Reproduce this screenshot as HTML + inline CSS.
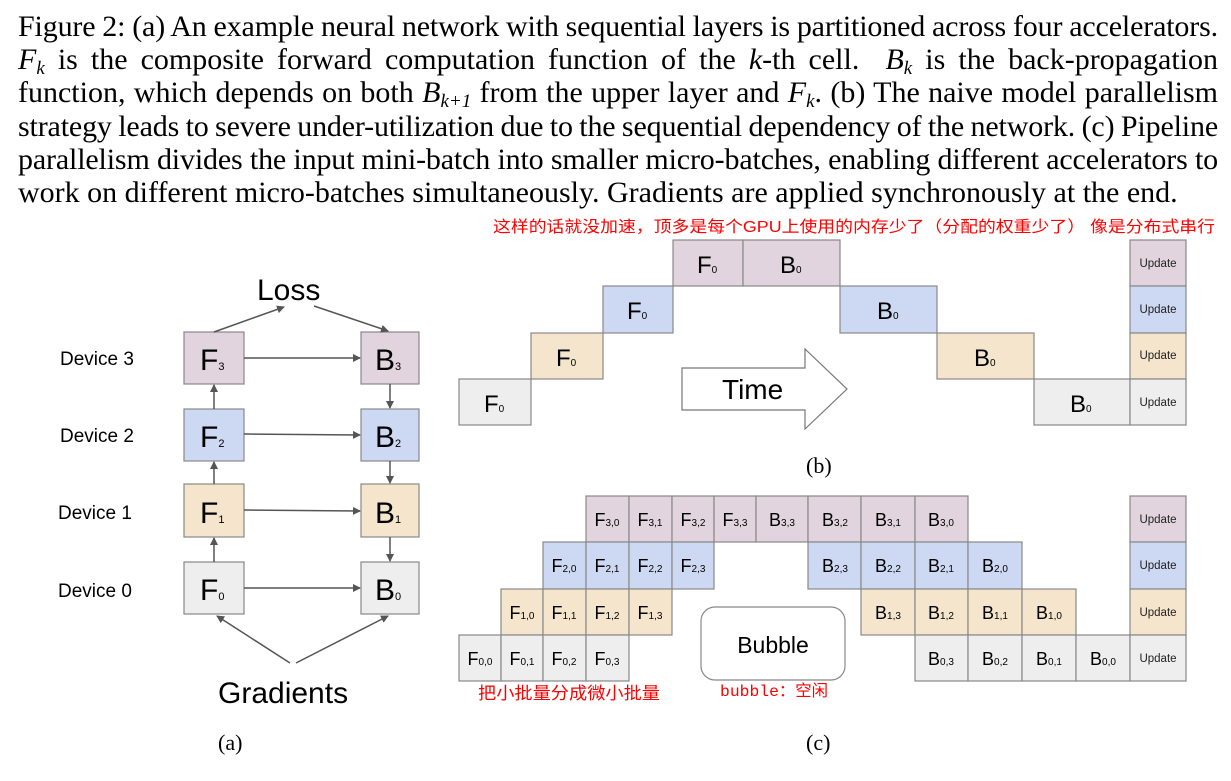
<!DOCTYPE html>
<html><head><meta charset="utf-8"><style>
body{margin:0;width:1231px;height:781px;background:#fff;overflow:hidden;position:relative}
.cap{position:absolute;left:18px;top:10px;width:1200px;font-family:"Liberation Serif",serif;font-size:30px;line-height:33.2px;color:#000}
.cap div{height:33.2px;text-align:justify;text-align-last:justify;white-space:nowrap}
.cap div.t{word-spacing:-2.5px;letter-spacing:-0.15px}
.cap div.last{text-align-last:left}
i{font-style:italic}
sub{font-size:19px;line-height:0;vertical-align:-5px}
svg{position:absolute;left:0;top:0}
</style></head><body>
<div class="cap">
<div class="t">Figure 2: (a) An example neural network with sequential layers is partitioned across four accelerators.</div>
<div><i>F<sub>k</sub></i> is the composite forward computation function of the <i>k</i>-th cell. &nbsp;<i>B<sub>k</sub></i> is the back-propagation</div>
<div>function, which depends on both <i>B<sub>k+1</sub></i> from the upper layer and <i>F<sub>k</sub></i>. (b) The naive model parallelism</div>
<div class="t">strategy leads to severe under-utilization due to the sequential dependency of the network. (c) Pipeline</div>
<div class="t">parallelism divides the input mini-batch into smaller micro-batches, enabling different accelerators to</div>
<div class="last">work on different micro-batches simultaneously. Gradients are applied synchronously at the end.</div>
</div>
<svg width="1231" height="781" xmlns="http://www.w3.org/2000/svg" font-family="Liberation Sans, sans-serif">
<defs><marker id="a" markerWidth="8" markerHeight="8" refX="7" refY="4" orient="auto" markerUnits="userSpaceOnUse"><path d="M0,0 L8,4 L0,8 z" fill="#555"/></marker></defs>
<text x="493" y="232" font-size="16" fill="#f00" textLength="722" lengthAdjust="spacingAndGlyphs" font-family="Liberation Sans, Noto Sans CJK SC, sans-serif">这样的话就没加速，顶多是每个GPU上使用的内存少了（分配的权重少了） 像是分布式串行</text>
<g stroke="#888" stroke-width="1.2">
<rect x="184" y="332" width="60" height="52" fill="#e2d4de"/>
<rect x="184" y="409" width="60" height="52" fill="#cdd9f3"/>
<rect x="184" y="484" width="60" height="53" fill="#f5e5cd"/>
<rect x="184" y="562" width="60" height="52" fill="#eeeeee"/>
<rect x="361" y="332" width="58" height="52" fill="#e2d4de"/>
<rect x="361" y="409" width="58" height="52" fill="#cdd9f3"/>
<rect x="361" y="484" width="58" height="53" fill="#f5e5cd"/>
<rect x="361" y="562" width="58" height="52" fill="#eeeeee"/>
</g>
<g stroke="#555" stroke-width="1.5" marker-end="url(#a)">
<line x1="244" y1="358" x2="360" y2="358"/><line x1="244" y1="434" x2="360" y2="435"/>
<line x1="244" y1="510" x2="360" y2="511"/><line x1="244" y1="588" x2="360" y2="588"/>
<line x1="214" y1="562" x2="214" y2="538"/><line x1="214" y1="484" x2="214" y2="462"/><line x1="214" y1="409" x2="214" y2="385"/>
<line x1="390" y1="384" x2="390" y2="408"/><line x1="390" y1="461" x2="390" y2="483"/><line x1="390" y1="537" x2="390" y2="561"/>
<line x1="214" y1="332" x2="284" y2="307"/><line x1="314" y1="306" x2="388" y2="331"/>
<line x1="290" y1="663" x2="217" y2="616"/><line x1="296" y1="663" x2="388" y2="616"/>
</g>
<g font-size="30" fill="#000">
<text x="257" y="300">Loss</text><text x="218" y="703">Gradients</text>
<text x="200" y="370">F<tspan font-size="11">3</tspan></text><text x="200" y="447">F<tspan font-size="11">2</tspan></text>
<text x="200" y="523">F<tspan font-size="11">1</tspan></text><text x="200" y="600">F<tspan font-size="11">0</tspan></text>
<text x="375" y="370">B<tspan font-size="11">3</tspan></text><text x="375" y="447">B<tspan font-size="11">2</tspan></text>
<text x="375" y="523">B<tspan font-size="11">1</tspan></text><text x="375" y="600">B<tspan font-size="11">0</tspan></text>
</g>
<g font-size="19" fill="#000">
<text x="60" y="365">Device 3</text><text x="60" y="442">Device 2</text><text x="58" y="519">Device 1</text><text x="58" y="597">Device 0</text>
</g>
<g font-family="Liberation Serif, serif" font-size="22"><text x="218" y="750">(a)</text><text x="806" y="473">(b)</text><text x="806" y="750">(c)</text></g>
<g stroke="#888" stroke-width="1.2">
<rect x="459" y="379" width="72" height="46" fill="#eeeeee"/>
<rect x="531" y="333" width="72" height="46" fill="#f5e5cd"/>
<rect x="603" y="286" width="70" height="47" fill="#cdd9f3"/>
<rect x="673" y="240" width="70" height="46" fill="#e2d4de"/>
<rect x="743" y="240" width="97" height="46" fill="#e2d4de"/>
<rect x="840" y="286" width="97" height="47" fill="#cdd9f3"/>
<rect x="937" y="333" width="97" height="46" fill="#f5e5cd"/>
<rect x="1034" y="379" width="96" height="46" fill="#eeeeee"/>
<rect x="1130" y="240" width="56" height="46" fill="#e2d4de"/>
<rect x="1130" y="286" width="56" height="47" fill="#cdd9f3"/>
<rect x="1130" y="333" width="56" height="46" fill="#f5e5cd"/>
<rect x="1130" y="379" width="56" height="46" fill="#eeeeee"/>
<path d="M682,368 H805 V349 L847,389 L805,429 V410 H682 Z" fill="#fff" stroke="#777"/>
</g>
<g font-size="24" fill="#000">
<text x="484" y="412">F<tspan font-size="10">0</tspan></text><text x="556" y="366">F<tspan font-size="10">0</tspan></text>
<text x="627" y="319">F<tspan font-size="10">0</tspan></text><text x="697" y="273">F<tspan font-size="10">0</tspan></text>
<text x="780" y="273">B<tspan font-size="10">0</tspan></text><text x="877" y="319">B<tspan font-size="10">0</tspan></text>
<text x="974" y="366">B<tspan font-size="10">0</tspan></text><text x="1070" y="412">B<tspan font-size="10">0</tspan></text>
<text x="722" y="399" font-size="28">Time</text>
</g>
<g stroke="#888" stroke-width="1.2">
<g fill="#e2d4de"><rect x="586" y="496" width="43" height="46"/><rect x="629" y="496" width="43" height="46"/><rect x="672" y="496" width="42" height="46"/><rect x="714" y="496" width="42" height="46"/><rect x="756" y="496" width="52" height="46"/><rect x="808" y="496" width="53" height="46"/><rect x="861" y="496" width="54" height="46"/><rect x="915" y="496" width="53" height="46"/><rect x="1130" y="496" width="56" height="46"/></g>
<g fill="#cdd9f3"><rect x="543" y="542" width="43" height="47"/><rect x="586" y="542" width="43" height="47"/><rect x="629" y="542" width="43" height="47"/><rect x="672" y="542" width="42" height="47"/><rect x="808" y="542" width="53" height="47"/><rect x="861" y="542" width="54" height="47"/><rect x="915" y="542" width="53" height="47"/><rect x="968" y="542" width="54" height="47"/><rect x="1130" y="542" width="56" height="47"/></g>
<g fill="#f5e5cd"><rect x="501" y="589" width="42" height="46"/><rect x="543" y="589" width="43" height="46"/><rect x="586" y="589" width="43" height="46"/><rect x="629" y="589" width="43" height="46"/><rect x="861" y="589" width="54" height="46"/><rect x="915" y="589" width="53" height="46"/><rect x="968" y="589" width="54" height="46"/><rect x="1022" y="589" width="54" height="46"/><rect x="1130" y="589" width="56" height="46"/></g>
<g fill="#eeeeee"><rect x="459" y="635" width="42" height="46"/><rect x="501" y="635" width="42" height="46"/><rect x="543" y="635" width="43" height="46"/><rect x="586" y="635" width="43" height="46"/><rect x="915" y="635" width="53" height="46"/><rect x="968" y="635" width="54" height="46"/><rect x="1022" y="635" width="54" height="46"/><rect x="1076" y="635" width="54" height="46"/><rect x="1130" y="635" width="56" height="46"/></g>
<rect x="701" y="607" width="144" height="73" rx="14" fill="#fff"/>
</g>
<g font-size="11.5" fill="#222" text-anchor="middle">
<text x="1158" y="267">Update</text><text x="1158" y="313">Update</text><text x="1158" y="359">Update</text><text x="1158" y="406">Update</text>
<text x="1158" y="523">Update</text><text x="1158" y="569">Update</text><text x="1158" y="616">Update</text><text x="1158" y="662">Update</text>
</g>
<g font-size="18" fill="#000" text-anchor="middle">
<text x="607" y="526">F<tspan font-size="10">3,0</tspan></text><text x="650" y="526">F<tspan font-size="10">3,1</tspan></text><text x="693" y="526">F<tspan font-size="10">3,2</tspan></text><text x="735" y="526">F<tspan font-size="10">3,3</tspan></text>
<text x="782" y="526">B<tspan font-size="10">3,3</tspan></text><text x="835" y="526">B<tspan font-size="10">3,2</tspan></text><text x="888" y="526">B<tspan font-size="10">3,1</tspan></text><text x="941" y="526">B<tspan font-size="10">3,0</tspan></text>
<text x="564" y="572">F<tspan font-size="10">2,0</tspan></text><text x="607" y="572">F<tspan font-size="10">2,1</tspan></text><text x="650" y="572">F<tspan font-size="10">2,2</tspan></text><text x="693" y="572">F<tspan font-size="10">2,3</tspan></text>
<text x="835" y="572">B<tspan font-size="10">2,3</tspan></text><text x="888" y="572">B<tspan font-size="10">2,2</tspan></text><text x="941" y="572">B<tspan font-size="10">2,1</tspan></text><text x="995" y="572">B<tspan font-size="10">2,0</tspan></text>
<text x="522" y="619">F<tspan font-size="10">1,0</tspan></text><text x="564" y="619">F<tspan font-size="10">1,1</tspan></text><text x="607" y="619">F<tspan font-size="10">1,2</tspan></text><text x="650" y="619">F<tspan font-size="10">1,3</tspan></text>
<text x="888" y="619">B<tspan font-size="10">1,3</tspan></text><text x="941" y="619">B<tspan font-size="10">1,2</tspan></text><text x="995" y="619">B<tspan font-size="10">1,1</tspan></text><text x="1049" y="619">B<tspan font-size="10">1,0</tspan></text>
<text x="480" y="665">F<tspan font-size="10">0,0</tspan></text><text x="522" y="665">F<tspan font-size="10">0,1</tspan></text><text x="564" y="665">F<tspan font-size="10">0,2</tspan></text><text x="607" y="665">F<tspan font-size="10">0,3</tspan></text>
<text x="941" y="665">B<tspan font-size="10">0,3</tspan></text><text x="995" y="665">B<tspan font-size="10">0,2</tspan></text><text x="1049" y="665">B<tspan font-size="10">0,1</tspan></text><text x="1103" y="665">B<tspan font-size="10">0,0</tspan></text>
<text x="773" y="653" font-size="23">Bubble</text>
</g>
<text x="478" y="699" font-size="17" fill="#f00" textLength="182" lengthAdjust="spacingAndGlyphs" font-family="Liberation Sans, Noto Sans CJK SC, sans-serif">把小批量分成微小批量</text>
<text x="720" y="696" font-size="16" fill="#f00" textLength="108" lengthAdjust="spacingAndGlyphs" font-family="Liberation Mono, Noto Sans CJK SC, monospace">bubble：空闲</text>
</svg>
</body></html>
